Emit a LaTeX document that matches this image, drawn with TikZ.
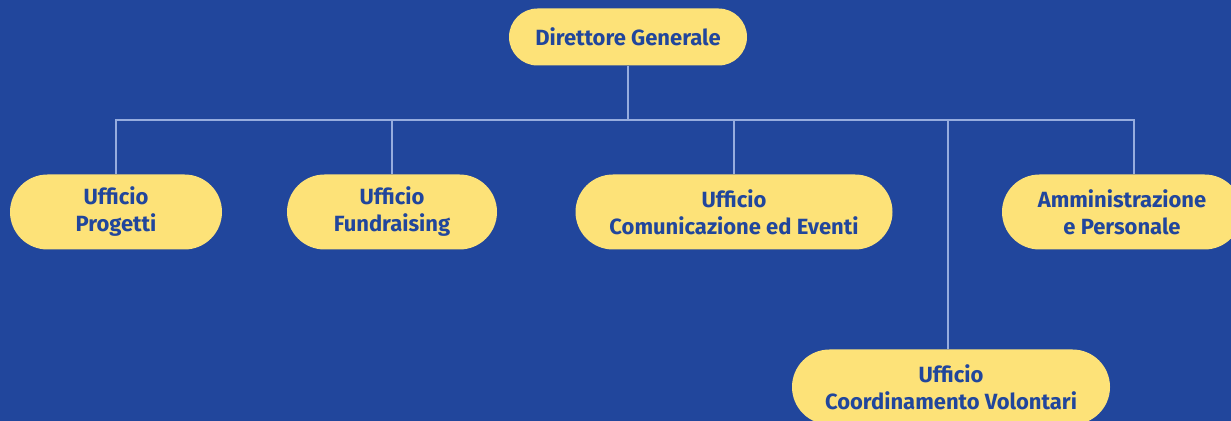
\documentclass[tikz,border=0pt]{standalone}
\usepackage{fontspec}
\setmainfont{Fira Sans}
\usetikzlibrary{positioning}
\usetikzlibrary{shapes.misc}
\usetikzlibrary{calc}
\definecolor{bgblue}{RGB}{33,70,156}
\definecolor{boxyellow}{RGB}{253,226,120}
\definecolor{linkblue}{RGB}{150,172,222}

\begin{document}
\begin{tikzpicture}[x=0.5pt, y=-0.5pt,
  office/.style={rounded rectangle, fill=boxyellow, text=bgblue,
    font=\fontsize{11pt}{13.5pt}\selectfont\bfseries, align=center,
    minimum height=37.5pt, inner sep=0pt},
  link/.style={draw=linkblue, line width=1.1pt}]
\useasboundingbox (0,0) rectangle (1231,421);
\fill[bgblue] (0,0) rectangle (1231,421);

% vertici
\node[office, minimum height=28.5pt, minimum width=119pt] (dg) at (628,37) {Direttore Generale};
\node[office, minimum width=106pt] (prog) at (116,212) {Ufficio\\Progetti};
\node[office, minimum width=105pt] (fund) at (392,212) {Ufficio\\Fundraising};
\node[office, minimum width=158.5pt] (com) at (734,212) {Ufficio\\Comunicazione ed Eventi};
\node[office, minimum width=120pt] (amm) at (1122,212) {Amministrazione\\e Personale};
\node[office, minimum width=159pt] (vol) at (951,387) {Ufficio\\Coordinamento Volontari};

% linee
\coordinate (bus) at (628,120);
\coordinate (ammtop) at ($(amm.north)+(12,0)$);
\coordinate (voltop) at ($(vol.north)+(-3,0)$);
\draw[link] (dg.south) -- (dg.south |- bus);
\draw[link] (prog.north) -- (prog.north |- bus) -- (ammtop |- bus) -- (ammtop);
\draw[link] (fund.north) -- (fund.north |- bus);
\draw[link] (com.north) -- (com.north |- bus);
\draw[link] (voltop) -- (voltop |- bus);
\end{tikzpicture}
\end{document}
